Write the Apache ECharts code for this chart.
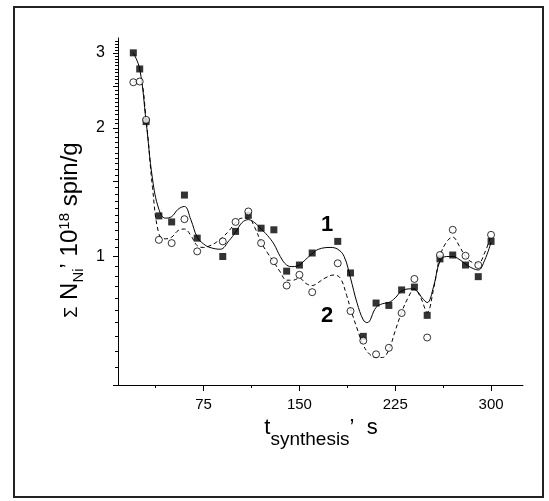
<!DOCTYPE html>
<html>
<head>
<meta charset="utf-8">
<script src="https://cdn.jsdelivr.net/npm/echarts@6/dist/echarts.min.js"></script>
<style>
  html, body { margin: 0; padding: 0; background: #fff; }
  #chart { width: 549px; height: 501px; }
</style>
</head>
<body>
<div id="chart"></div>
<script>
// Synthesis time, s
const sampleTime = [20, 25, 30, 40, 50, 60, 70, 90, 100, 110, 120, 130, 140, 150, 160,
  180, 190, 200, 210, 220, 230, 240, 250, 260, 270, 280, 290, 300];

// Total Ni spin concentration, 10^18 spin/g
const spinSample1 = [3.0, 2.75, 2.07, 1.245, 1.205, 1.393, 1.104, 1.0, 1.145, 1.249, 1.165, 1.155, 0.924, 0.955, 1.019,
  1.085, 0.915, 0.65, 0.778, 0.768, 0.835, 0.848, 0.728, 0.987, 1.008, 0.955, 0.897, 1.085];
const spinSample2 = [2.56, 2.57, 2.09, 1.094, 1.075, 1.223, 1.028, 1.085, 1.205, 1.275, 1.075, 0.975, 0.855, 0.906, 0.825,
  0.964, 0.745, 0.635, 0.59, 0.611, 0.737, 0.886, 0.646, 1.008, 1.155, 1.004, 0.955, 1.124];

// Smoothed trend curves
const fitTime1 = [20, 25, 30, 35, 40, 45, 50, 55, 60, 65, 70, 75, 80, 88, 95, 100, 105, 110, 115, 120, 125, 130, 135,
  140, 145, 150, 155, 160, 165, 174, 180, 185, 190, 195, 200, 203, 210, 215, 220, 225, 230, 237, 242, 246, 250, 255,
  260, 265, 270, 275, 280, 285, 290, 295, 300];
const fitSpin1 = [3.0, 2.75, 2.07, 1.52, 1.29, 1.23, 1.24, 1.29, 1.31, 1.22, 1.11, 1.07, 1.05, 1.04, 1.09, 1.14, 1.2, 1.22,
  1.2, 1.16, 1.12, 1.07, 1.0, 0.955, 0.947, 0.955, 0.985, 1.015, 1.04, 1.05, 1.04, 1.0, 0.89, 0.78, 0.71, 0.7, 0.76,
  0.775, 0.78, 0.8, 0.83, 0.84, 0.83, 0.8, 0.78, 0.85, 0.975, 1.0, 1.0, 0.985, 0.96, 0.94, 0.93, 0.98, 1.08];

const fitTime2 = [20, 25, 30, 35, 40, 45, 50, 55, 60, 65, 70, 75, 80, 85, 90, 95, 100, 105, 110, 115, 120, 125, 130,
  135, 140, 145, 150, 155, 160, 165, 170, 177, 182, 187, 190, 195, 200, 205, 210, 215, 220, 225, 230, 235, 240, 245,
  250, 255, 260, 265, 270, 275, 280, 285, 290, 295, 300];
const fitSpin2 = [2.56, 2.57, 2.09, 1.45, 1.13, 1.1, 1.11, 1.15, 1.16, 1.12, 1.06, 1.05, 1.06, 1.08, 1.11, 1.15, 1.2, 1.23,
  1.23, 1.17, 1.08, 1.02, 0.97, 0.92, 0.88, 0.88, 0.89, 0.865, 0.855, 0.87, 0.89, 0.905, 0.89, 0.81, 0.755, 0.68, 0.62,
  0.59, 0.58, 0.58, 0.605, 0.67, 0.74, 0.8, 0.84, 0.8, 0.74, 0.84, 1.0, 1.08, 1.11, 1.06, 1.0, 0.97, 0.965, 1.02, 1.12];

// Axis ticks
const xMajorTicks = [75, 150, 225, 300];
const xMinorTicks = [37.5, 112.5, 187.5, 262.5];
const yLabelTicks = [1, 2, 3];
const yMajorTicks = [0.5, 1, 1.5, 2, 2.5, 3];
const yMinorTicks = [0.55, 0.6, 0.65, 0.7, 0.75, 0.8, 0.85, 0.9, 0.95,
  1.05, 1.1, 1.15, 1.2, 1.25, 1.3, 1.35, 1.4, 1.45,
  1.55, 1.6, 1.65, 1.7, 1.75, 1.8, 1.85, 1.9, 1.95,
  2.05, 2.1, 2.15, 2.2, 2.25, 2.3, 2.35, 2.4, 2.45,
  2.55, 2.6, 2.65, 2.7, 2.75, 2.8, 2.85, 2.9, 2.95,
  3.05, 3.1, 3.15, 3.2];

const FONT = '"Liberation Sans", Arial, Helvetica, sans-serif';
const X_MIN = 8, X_MAX = 325;
const Y_MIN = 0.5, Y_MAX = 3.25;

const pairs = (xs, ys) => xs.map((x, i) => [x, ys[i]]);

const chart = echarts.init(document.getElementById('chart'), null, { renderer: 'canvas' });

const hidden = { show: false };

chart.setOption({
  animation: false,
  backgroundColor: '#fff',
  grid: { left: 118, right: 26, top: 38, bottom: 116, containLabel: false },
  xAxis: [
    {
      type: 'value', position: 'bottom', min: X_MIN, max: X_MAX,
      axisLine: { show: true, lineStyle: { color: '#000', width: 1 } },
      axisTick: { show: true, inside: false, length: 6, customValues: xMajorTicks, lineStyle: { color: '#000', width: 1 } },
      axisLabel: { show: true, customValues: xMajorTicks, margin: 12, color: '#000', fontSize: 15, fontFamily: FONT },
      splitLine: hidden
    },
    {
      type: 'value', position: 'bottom', min: X_MIN, max: X_MAX,
      axisLine: hidden,
      axisTick: { show: true, inside: false, length: 3, customValues: xMinorTicks, lineStyle: { color: '#000', width: 1 } },
      axisLabel: hidden,
      splitLine: hidden
    }
  ],
  yAxis: [
    {
      type: 'log', logBase: 10, position: 'left', min: Y_MIN, max: Y_MAX,
      axisLine: { show: true, lineStyle: { color: '#000', width: 1 } },
      axisTick: { show: true, inside: false, length: 5, customValues: yMajorTicks, lineStyle: { color: '#000', width: 1 } },
      axisLabel: { show: true, customValues: yLabelTicks, margin: 13, color: '#000', fontSize: 16, fontFamily: FONT },
      splitLine: hidden
    },
    {
      type: 'log', logBase: 10, position: 'left', min: Y_MIN, max: Y_MAX,
      axisLine: hidden,
      axisTick: { show: true, inside: false, length: 3, customValues: yMinorTicks, lineStyle: { color: '#000', width: 1 } },
      axisLabel: hidden,
      splitLine: hidden
    }
  ],
  series: [
    {
      name: 'fit 1', type: 'line', xAxisIndex: 0, yAxisIndex: 0,
      data: pairs(fitTime1, fitSpin1), smooth: 0.4, showSymbol: false, symbol: 'none',
      lineStyle: { color: '#000', width: 1, type: 'solid' }, z: 2
    },
    {
      name: 'fit 2', type: 'line', xAxisIndex: 0, yAxisIndex: 0,
      data: pairs(fitTime2, fitSpin2), smooth: 0.4, showSymbol: false, symbol: 'none',
      lineStyle: { color: '#000', width: 1, type: [4, 3] }, z: 2
    },
    {
      name: '1', type: 'scatter', xAxisIndex: 0, yAxisIndex: 0,
      data: pairs(sampleTime, spinSample1), symbol: 'rect', symbolSize: 7,
      itemStyle: { color: '#000' }, z: 3
    },
    {
      name: '2', type: 'scatter', xAxisIndex: 0, yAxisIndex: 0,
      data: pairs(sampleTime, spinSample2), symbol: 'circle', symbolSize: 7,
      itemStyle: { color: '#fff', borderColor: '#000', borderWidth: 1 }, z: 4
    }
  ],
  graphic: [
    {
      type: 'rect', silent: true,
      shape: { x: 14, y: 7, width: 529, height: 490 },
      style: { fill: 'none', stroke: '#222', lineWidth: 2 }
    },
    {
      type: 'text', x: 327, y: 225, silent: true,
      style: { text: '1', font: 'bold 22px ' + FONT, fill: '#000', align: 'center', verticalAlign: 'middle' }
    },
    {
      type: 'text', x: 327, y: 316, silent: true,
      style: { text: '2', font: 'bold 22px ' + FONT, fill: '#000', align: 'center', verticalAlign: 'middle' }
    },
    {
      // x-axis title: t_synthesis, s
      type: 'text', x: 321, y: 416.5, silent: true,
      style: {
        text: '{m|t}{s|synthesis}{m|’  s}',
        align: 'center', verticalAlign: 'top', fill: '#000',
        rich: {
          m: { fontSize: 22, lineHeight: 22, fontFamily: FONT, verticalAlign: 'top', fill: '#000', color: '#000' },
          s: { fontSize: 19, lineHeight: 19, fontFamily: FONT, verticalAlign: 'top', padding: [13.5, 0, 0, 0], fill: '#000', color: '#000' }
        }
      }
    },
    {
      // y-axis title: Σ N_Ni, 10^18 spin/g
      type: 'text', x: 52, y: 230, rotation: Math.PI / 2, silent: true,
      style: {
        text: '{g|Σ}{m| N}{b|Ni}{m|’ 10}{p|18}{m| spin/g}',
        align: 'center', verticalAlign: 'top', fill: '#000',
        rich: {
          g: { fontSize: 18, lineHeight: 18, fontFamily: FONT, verticalAlign: 'top', padding: [11, 0, 0, 0], fill: '#000', color: '#000' },
          m: { fontSize: 24, lineHeight: 24, fontFamily: FONT, verticalAlign: 'top', padding: [6, 0, 0, 0], fill: '#000', color: '#000' },
          b: { fontSize: 15, lineHeight: 15, fontFamily: FONT, verticalAlign: 'top', padding: [19, 0, 0, 0], fill: '#000', color: '#000' },
          p: { fontSize: 15, lineHeight: 15, fontFamily: FONT, verticalAlign: 'top', padding: [5, 0, 0, 0], fill: '#000', color: '#000' }
        }
      }
    }
  ]
});
</script>
</body>
</html>
